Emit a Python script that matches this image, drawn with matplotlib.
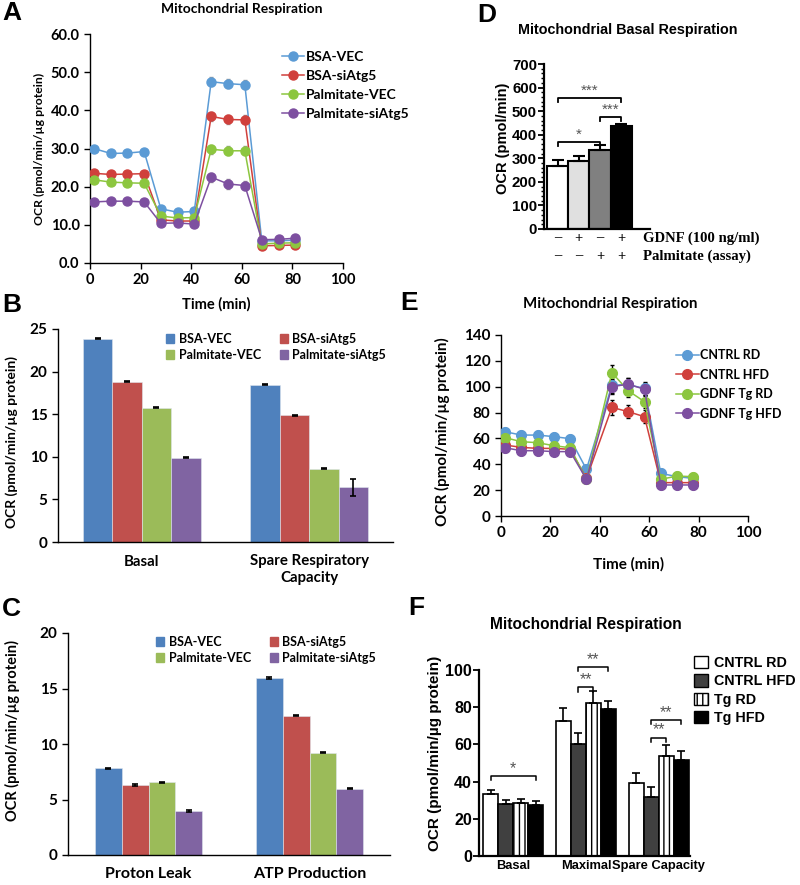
import matplotlib
matplotlib.use('Agg')
import matplotlib.pyplot as plt
from matplotlib.ticker import MultipleLocator, FormatStrFormatter
from matplotlib.patches import Patch
from matplotlib.lines import Line2D
import matplotlib.transforms as mtrans

# ---------------- data ----------------
# A: seahorse trace, cells
a_time = [1.5, 8.2, 14.8, 21.4, 28.0, 34.6, 41.2, 47.9, 54.6, 61.2, 67.9, 74.6, 81.2]
a_names = ['BSA-VEC', 'BSA-siAtg5', 'Palmitate-VEC', 'Palmitate-siAtg5']
a_bsa_vec = [30.0, 28.7, 28.8, 29.2, 14.2, 13.3, 13.5, 47.5, 47.0, 46.7, 5.8, 5.8, 6.0]
a_bsa_si = [23.5, 23.2, 23.3, 23.4, 11.3, 11.0, 11.0, 38.4, 37.6, 37.5, 4.5, 4.6, 4.7]
a_pal_vec = [21.8, 21.2, 21.0, 20.9, 12.3, 11.8, 11.9, 29.8, 29.4, 29.4, 5.0, 5.2, 5.3]
a_pal_si = [16.0, 16.2, 16.2, 16.0, 10.4, 10.5, 10.2, 22.5, 20.7, 20.3, 6.1, 6.2, 6.5]
a_err = [0.6, 0.6, 0.6, 0.6, 0.5, 0.5, 0.5, 1.2, 1.2, 1.2, 0.6, 0.6, 0.8]

# B / C: bar summaries
b_cats = ['Basal', 'Spare Respiratory\nCapacity']
b_vals = {'BSA-VEC': [23.86, 18.45], 'BSA-siAtg5': [18.8, 14.85],
          'Palmitate-VEC': [15.75, 8.6], 'Palmitate-siAtg5': [9.9, 6.45]}
b_errs = {'BSA-VEC': [0.05, 0.05], 'BSA-siAtg5': [0.05, 0.05],
          'Palmitate-VEC': [0.05, 0.05], 'Palmitate-siAtg5': [0.05, 1.0]}
c_cats = ['Proton Leak', 'ATP Production']
c_vals = {'BSA-VEC': [7.82, 15.94], 'BSA-siAtg5': [6.32, 12.54],
          'Palmitate-VEC': [6.54, 9.23], 'Palmitate-siAtg5': [3.95, 5.98]}
c_errs = 0.06

# D: basal respiration, GDNF / palmitate
d_vals = [269, 288, 334, 436]
d_errs = [25, 20, 21, 8]
d_gdnf = ['\u2013', '+', '\u2013', '+']
d_palm = ['\u2013', '\u2013', '+', '+']

# E: seahorse trace, mice
e_time = [1.6, 8.2, 14.8, 21.4, 28.0, 34.6, 44.9, 51.5, 58.1, 64.7, 71.3, 77.9]
e_names = ['CNTRL RD', 'CNTRL HFD', 'GDNF Tg RD', 'GDNF Tg HFD']
e_cntrl_rd = [65.2, 62.6, 62.6, 61.4, 59.8, 36.1, 101.3, 101.5, 98.7, 33.0, 30.4, 29.1]
e_cntrl_hfd = [54.9, 53.1, 52.3, 52.3, 51.6, 29.1, 84.0, 80.7, 76.8, 25.8, 25.8, 25.8]
e_tg_rd = [60.6, 57.5, 56.7, 54.4, 52.8, 28.4, 110.9, 96.9, 88.4, 28.4, 30.9, 30.4]
e_tg_hfd = [52.8, 50.5, 50.5, 49.8, 49.8, 28.4, 100.0, 102.0, 98.0, 24.0, 24.0, 24.0]
e_err = [3, 3, 3, 3, 3, 3, 6, 5, 5, 3, 3, 3]

# F: respiration summary, mice
f_cats = ['Basal', 'Maximal', 'Spare Capacity']
f_names = ['CNTRL RD', 'CNTRL HFD', 'Tg RD', 'Tg HFD']
f_vals = [[33.2, 72.7, 39.0], [28.2, 60.1, 31.8], [28.5, 82.4, 53.9], [27.3, 78.8, 51.5]]
f_errs = [[2.2, 6.7, 5.7], [1.8, 5.8, 5.4], [2.0, 6.5, 5.7], [2.1, 4.5, 4.9]]

# ---------------- style ----------------
W, H = 800, 885
CAL = 'Lato'
ARI = 'Liberation Sans'
TNR = 'Liberation Serif'
line_cols = ['#5B9BD5', '#D0403C', '#8CC63F', '#7D4FA0']
bar_cols = ['#4F81BD', '#C0504D', '#9BBB59', '#8064A2']
plt.rcParams['hatch.linewidth'] = 1.0

fig = plt.figure(figsize=(W / 100, H / 100), dpi=100)


def ax_px(l, t, r, b):
    return fig.add_axes([l / W, 1 - b / H, (r - l) / W, (b - t) / H])


def ftext(x, y, s, **kw):
    fig.text(x / W, 1 - y / H, s, **kw)


def fpt(x, y):
    return (x / W, 1 - y / H)


def plain_axes(ax, lw=1.0):
    for s in ['top', 'right']:
        ax.spines[s].set_visible(False)
    for s in ['left', 'bottom']:
        ax.spines[s].set_linewidth(lw)


# ---------------- A ----------------
ax = ax_px(90, 34, 343, 263)
plain_axes(ax)
for ys, c, n in zip([a_bsa_vec, a_bsa_si, a_pal_vec, a_pal_si], line_cols, a_names):
    ax.errorbar(a_time, ys, yerr=a_err, color=c, ecolor='#999999', elinewidth=0.8,
                capsize=1.5, lw=1.1, marker='o', ms=6.5, mec=c, label=n, zorder=3)
ax.set_xlim(0, 100)
ax.set_ylim(0, 60)
ax.xaxis.set_major_locator(MultipleLocator(20))
ax.yaxis.set_major_locator(MultipleLocator(10))
ax.yaxis.set_major_formatter(FormatStrFormatter('%.1f'))
ax.tick_params(length=4, width=1, labelsize=10.5)
for t in ax.get_xticklabels() + ax.get_yticklabels():
    t.set_fontfamily(CAL); t.set_fontweight('bold')
ax.set_ylabel('OCR (pmol/min/\u00b5g protein)', fontfamily=CAL, fontweight='bold', fontsize=8.8)
ax.yaxis.set_label_coords(-0.178, 0.5)
ax.set_xlabel('Time (min)', fontfamily=CAL, fontweight='bold', fontsize=10.5)
ax.xaxis.set_label_coords(0.498, -0.148)
h = [Line2D([], [], color=c, marker='o', ms=6.5, lw=1.1) for c in line_cols]
ax.legend(h, a_names, loc='upper left', bbox_to_anchor=fpt(282, 51), bbox_transform=fig.transFigure,
          frameon=False, borderpad=0, borderaxespad=0, handlelength=1.55, handletextpad=0.15,
          labelspacing=0.5, prop={'family': CAL, 'weight': 'bold', 'size': 10})
ftext(242, 9, 'Mitochondrial Respiration', ha='center', va='center', fontfamily=CAL,
      fontweight='bold', fontsize=10)


# ---------------- B and C ----------------
def group_bars(ax, cats, vals, errs, width):
    for i, n in enumerate(a_names):
        xs = [k + (i - 1.5) * width for k in range(len(cats))]
        e = errs[n] if isinstance(errs, dict) else errs
        ax.bar(xs, vals[n], width, color=bar_cols[i], edgecolor='#dfe6ee', lw=0.4, label=n,
               yerr=e, error_kw=dict(ecolor='black', elinewidth=1.2, capsize=2, capthick=1.2))
    ax.set_xlim(-0.5, 1.5)
    ax.set_xticks(range(len(cats)))
    ax.set_xticklabels(cats)
    ax.tick_params(axis='x', length=0, pad=9)
    ax.tick_params(axis='y', length=4, width=1)
    for t in ax.get_xticklabels() + ax.get_yticklabels():
        t.set_fontfamily(CAL); t.set_fontweight('bold')


def bar_legend(ax, anchor):
    hs = [Patch(color=c) for c in bar_cols]
    order = [0, 2, 1, 3]
    ax.legend([hs[k] for k in order], [a_names[k] for k in order], ncol=2, loc='upper left',
              bbox_to_anchor=anchor, bbox_transform=fig.transFigure, frameon=False, borderpad=0,
              borderaxespad=0, handlelength=0.65, handleheight=0.65, handletextpad=0.35,
              columnspacing=1.5, labelspacing=0.3,
              prop={'family': CAL, 'weight': 'bold', 'size': 9})


ax = ax_px(58, 329, 393, 542)
plain_axes(ax)
group_bars(ax, b_cats, b_vals, b_errs, 0.176)
ax.set_ylim(0, 25)
ax.yaxis.set_major_locator(MultipleLocator(5))
ax.tick_params(axis='y', labelsize=11)
ax.tick_params(axis='x', labelsize=10.8)
ax.set_ylabel('OCR (pmol/min/\u00b5g protein)', fontfamily=CAL, fontweight='bold', fontsize=10)
ax.yaxis.set_label_coords(-0.119, 0.47)
bar_legend(ax, fpt(166, 333))

ax = ax_px(68, 633, 390, 855)
plain_axes(ax)
group_bars(ax, c_cats, c_vals, c_errs, 0.166)
ax.set_ylim(0, 20)
ax.yaxis.set_major_locator(MultipleLocator(5))
ax.tick_params(axis='y', labelsize=11)
ax.tick_params(axis='x', labelsize=11.5)
ax.set_ylabel('OCR (pmol/min/\u00b5g protein)', fontfamily=CAL, fontweight='bold', fontsize=10.5)
ax.yaxis.set_label_coords(-0.149, 0.559)
bar_legend(ax, fpt(156, 636))

# ---------------- D ----------------
ax = ax_px(544, 64, 650, 229)
plain_axes(ax, lw=1.6)
d_cols = ['white', '#e0e0e0', '#808080', 'black']
xs = range(len(d_vals))
ax.bar(xs, d_vals, 1.0, color=d_cols, edgecolor='black', lw=1.5,
       yerr=[[0] * 4, d_errs], error_kw=dict(ecolor='black', elinewidth=1.5, capsize=4, capthick=1.5))
ax.set_xlim(-0.64, 4.35)
ax.set_ylim(0, 700)
ax.set_xticks([])
ax.yaxis.set_major_locator(MultipleLocator(100))
ax.yaxis.set_minor_locator(MultipleLocator(20))
ax.tick_params(axis='y', which='major', length=4, width=1.3, labelsize=10.8, pad=1)
ax.tick_params(axis='y', which='minor', length=2, width=1)
for t in ax.get_yticklabels():
    t.set_fontfamily(ARI); t.set_fontweight('bold')
ax.set_ylabel('OCR (pmol/min)', fontfamily=ARI, fontweight='bold', fontsize=10.5)
ax.yaxis.set_label_coords(-0.32, 0.55)
tr = mtrans.blended_transform_factory(ax.transData, ax.transAxes)
for x, g, p in zip(xs, d_gdnf, d_palm):
    ax.text(x, -0.055, g, transform=tr, ha='center', va='center', fontfamily=TNR,
            fontweight='bold', fontsize=10.5)
    ax.text(x, -0.164, p, transform=tr, ha='center', va='center', fontfamily=TNR,
            fontweight='bold', fontsize=10.5)
ax.text(0.934, -0.055, 'GDNF (100 ng/ml)', transform=ax.transAxes, ha='left', va='center',
        fontfamily=TNR, fontweight='bold', fontsize=10.6)
ax.text(0.934, -0.164, 'Palmitate (assay)', transform=ax.transAxes, ha='left', va='center',
        fontfamily=TNR, fontweight='bold', fontsize=10.6)


def bracket(ax, x0, x1, y, drop, label, fs, color='#555555', lw=1.3):
    ax.plot([x0, x0, x1, x1], [y - drop, y, y, y - drop], color='black', lw=lw, clip_on=False)
    ax.text((x0 + x1) / 2, y + drop * 0.1, label, ha='center', va='bottom', fontsize=fs,
            color=color, fontfamily=ARI, clip_on=False)


bracket(ax, 0, 3, 556, 17, '***', 11)
bracket(ax, 2, 3, 475, 17, '***', 11)
bracket(ax, 0, 2, 368, 17, '*', 11)
ftext(628, 30, 'Mitochondrial Basal Respiration', ha='center', va='center', fontfamily=ARI,
      fontweight='bold', fontsize=10.4)

# ---------------- E ----------------
ax = ax_px(501, 335, 748, 516)
plain_axes(ax)
for ys, c, n in zip([e_cntrl_rd, e_cntrl_hfd, e_tg_rd, e_tg_hfd], line_cols, e_names):
    ax.errorbar(e_time, ys, yerr=e_err, color=c, ecolor='black', elinewidth=1.0,
                capsize=1.5, lw=1.1, marker='o', ms=7, mec=c, label=n, zorder=3)
ax.set_xlim(0, 100)
ax.set_ylim(0, 140)
ax.xaxis.set_major_locator(MultipleLocator(20))
ax.yaxis.set_major_locator(MultipleLocator(20))
ax.tick_params(length=4, width=1, labelsize=11)
for t in ax.get_xticklabels() + ax.get_yticklabels():
    t.set_fontfamily(CAL); t.set_fontweight('bold')
ax.set_ylabel('OCR (pmol/min/\u00b5g protein)', fontfamily=CAL, fontweight='bold', fontsize=11)
ax.yaxis.set_label_coords(-0.206, 0.464)
ax.set_xlabel('Time (min)', fontfamily=CAL, fontweight='bold', fontsize=11)
ax.xaxis.set_label_coords(0.518, -0.227)
h = [Line2D([], [], color=c, marker='o', ms=7, lw=1.1) for c in line_cols]
ax.legend(h, e_names, loc='upper left', bbox_to_anchor=fpt(676, 349), bbox_transform=fig.transFigure,
          frameon=False, borderpad=0, borderaxespad=0, handlelength=1.8, handletextpad=0.15,
          labelspacing=0.6, prop={'family': CAL, 'weight': 'bold', 'size': 9})
ftext(610, 304, 'Mitochondrial Respiration', ha='center', va='center', fontfamily=CAL,
      fontweight='bold', fontsize=10.8)

# ---------------- F ----------------
ax = ax_px(479, 670, 690, 856)
plain_axes(ax, lw=1.6)
fw = 0.206
f_face = ['white', '#404040', 'white', 'black']
f_hatch = [None, None, '|||', None]
for i in range(4):
    xs = [k + (i - 1.5) * fw for k in range(len(f_cats))]
    ax.bar(xs, f_vals[i], fw, color=f_face[i], edgecolor='black', lw=1.2, hatch=f_hatch[i],
           yerr=[[0] * 3, f_errs[i]], error_kw=dict(ecolor='black', elinewidth=1.2, capsize=3, capthick=1.2))
ax.set_xlim(-0.47, 2.43)
ax.set_ylim(0, 100)
ax.set_xticks(range(len(f_cats)))
ax.set_xticklabels(f_cats)
ax.yaxis.set_major_locator(MultipleLocator(20))
ax.tick_params(axis='x', length=0, pad=3, labelsize=9.3)
ax.tick_params(axis='y', length=4, width=1.3, labelsize=11.5, pad=1)
for t in ax.get_xticklabels() + ax.get_yticklabels():
    t.set_fontfamily(ARI); t.set_fontweight('bold')
ax.set_ylabel('OCR (pmol/min/\u00b5g protein)', fontfamily=ARI, fontweight='bold', fontsize=11)
ax.yaxis.set_label_coords(-0.175, 0.554)
bracket(ax, -1.5 * fw, 1.5 * fw, 42.9, 2.2, '*', 11.5, lw=1.1)
bracket(ax, 1 - 0.5 * fw, 1 + 0.5 * fw, 90.6, 2.2, '**', 11.5, lw=1.1)
bracket(ax, 1 - 0.5 * fw, 1 + 1.5 * fw, 101.4, 2.2, '**', 11.5, lw=1.1)
bracket(ax, 2 - 0.5 * fw, 2 + 0.5 * fw, 63.7, 2.2, '**', 11.5, lw=1.1)
bracket(ax, 2 - 0.5 * fw, 2 + 1.5 * fw, 73.0, 2.2, '**', 11.5, lw=1.1)
hs = [Patch(facecolor=f_face[i], edgecolor='black', hatch=f_hatch[i], lw=1.0) for i in range(4)]
ax.legend(hs, f_names, loc='upper left', bbox_to_anchor=fpt(694, 656), bbox_transform=fig.transFigure,
          frameon=False, borderpad=0, borderaxespad=0, handlelength=0.95, handleheight=0.95,
          handletextpad=0.45, labelspacing=0.3, prop={'family': ARI, 'weight': 'bold', 'size': 10.3})
ftext(586, 624, 'Mitochondrial Respiration', ha='center', va='center', fontfamily=ARI,
      fontweight='bold', fontsize=11.2)

# ---------------- panel letters ----------------
for s, x, y in [('A', 2, 13), ('B', 2, 305), ('C', 2, 609), ('D', 477, 15), ('E', 400, 303), ('F', 408, 608)]:
    ftext(x, y, s, ha='left', va='center', fontfamily=ARI, fontweight='bold', fontsize=19)

fig.savefig('out.png', dpi=100)
